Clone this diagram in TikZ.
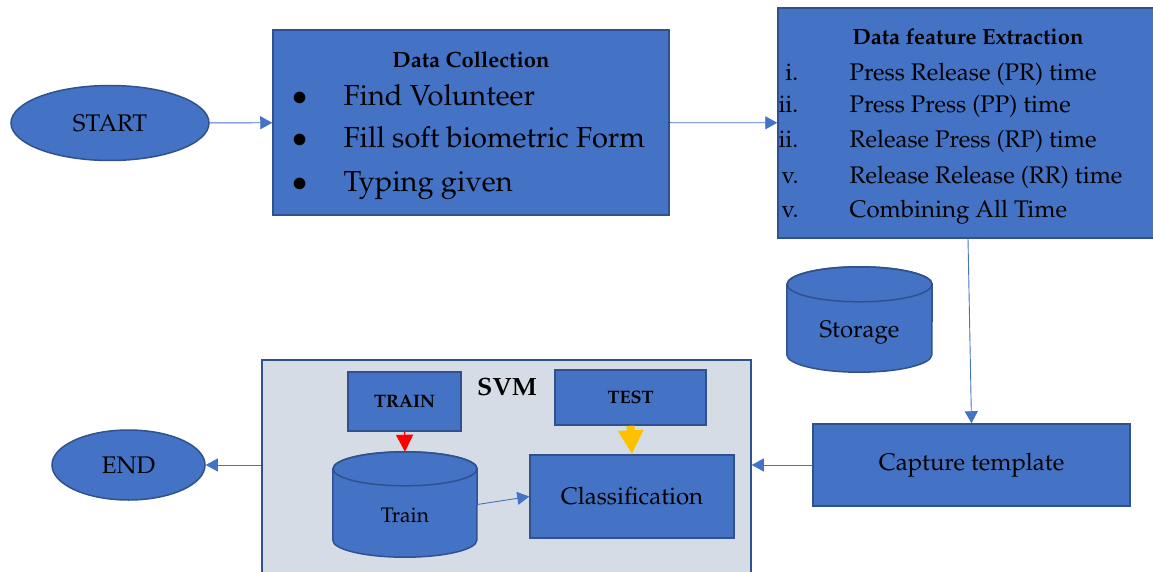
\documentclass[tikz,border=0pt]{standalone}
\usepackage[T1]{fontenc}
\usepackage{mathpazo}
\usetikzlibrary{arrows.meta,shapes.geometric}
\definecolor{boxblue}{HTML}{4472C4}
\definecolor{edgeblue}{HTML}{2F528F}
\definecolor{svmgray}{HTML}{D6DCE5}
\definecolor{testyellow}{HTML}{FFC000}
% drum (cylinder) around a named rectangle node: name, x radius, y radius
\newcommand{\drum}[3]{%
	\draw[draw=edgeblue,fill=boxblue,line width=1.5pt]
		([yshift=-#3]#1.north west) -- ([yshift=#3]#1.south west)
		arc[start angle=180,end angle=360,x radius=#2,y radius=#3]
		-- ([yshift=-#3]#1.north east)
		arc[start angle=0,end angle=180,x radius=#2,y radius=#3] -- cycle;
	\draw[draw=edgeblue,line width=1.5pt] ([yshift=-#3]#1.north) ellipse[x radius=#2,y radius=#3];}

\begin{document}
\begin{tikzpicture}[x=1pt,y=-1pt,
	blk/.style={draw=edgeblue,fill=boxblue,line width=1.5pt,rectangle,inner sep=0pt},
	oval/.style={draw=edgeblue,fill=boxblue,line width=1.5pt,ellipse,inner sep=0pt},
	db/.style={rectangle,inner sep=0pt},
	link/.style={draw=boxblue,line width=0.9pt,-{Triangle[length=12pt,width=13pt]}},
	txt/.style={font=\fontsize{24}{28}\selectfont},
	head/.style={font=\bfseries\fontsize{22}{26}\selectfont}]
			\useasboundingbox (0,0) rectangle (1153,572);
			% top row
			\node[oval,txt,minimum width=198,minimum height=75] (start) at (110,123) {START};
			\node[blk,minimum width=396,minimum height=185] (collect) at (471,122.5) {};
			\node[head,anchor=base] (collecttitle) at (471,68) {Data Collection};
			\foreach \y/\t in {106/Find Volunteer,148/Fill soft biometric Form,192/Typing given}
				{\node[anchor=base,font=\fontsize{29}{33}\selectfont] (dot\y) at (300,\y) {$\bullet$};
				 \node[anchor=base west,font=\fontsize{29}{33}\selectfont] (item\y) at (340,\y) {\t};}
			\node[blk,minimum width=380,minimum height=230] (extract) at (968,123) {};
			\node[head,anchor=base] (extracttitle) at (968,45) {Data feature Extraction};
			\foreach \y/\n/\t in {81/i./Press Release (PR) time,113/ii./Press Press (PP) time,148/ii./Release Press (RP) time,183/v./Release Release (RR) time,217/v./Combining All Time}
				{\node[txt,anchor=base east] (num\y) at (802,\y) {\n};
				 \node[txt,anchor=base west] (feat\y) at (846,\y) {\t};}
			% right side
			\node[db,minimum width=145,minimum height=105] (storage) at (859.5,319.5) {};
			\drum{storage}{72.5pt}{17.5pt}
			\node[txt] (storagelabel) at (859.5,333) {Storage};
			\node[blk,txt,minimum width=317,minimum height=82] (capture) at (971.5,465) {Capture template};
			% svm block
			\node[draw=edgeblue,fill=svmgray,line width=1.5pt,minimum width=489,minimum height=230] (svm) at (506.5,475) {};
			\node[font=\bfseries\fontsize{25}{29}\selectfont] (svmtitle) at (507,387) {SVM};
			\node[blk,font=\bfseries\fontsize{18}{22}\selectfont,minimum width=113,minimum height=59] (trainbox) at (404.5,401.5) {TRAIN};
			\node[blk,font=\bfseries\fontsize{18}{22}\selectfont,minimum width=151,minimum height=55] (testbox) at (630.5,397.5) {TEST};
			\node[db,minimum width=144,minimum height=105] (traindb) at (405,504.5) {};
			\drum{traindb}{72pt}{17pt}
			\node[font=\fontsize{21}{25}\selectfont] (trainlabel) at (405,515) {Train};
			\node[blk,txt,minimum width=204,minimum height=83] (classify) at (632,496.5) {Classification};
			\node[oval,txt,minimum width=153,minimum height=70] (finish) at (128.5,465) {END};
			% connectors
			\draw[link] (start) -- (collect);
			\draw[link] (collect) -- (extract);
			\draw[link] (extract.south) -- (capture.north);
			\draw[link] (capture.west) -- (capture.west -| svm.east);
			\draw[link] (finish.east -| svm.west) -- (finish.east);
			\draw[link] (traindb.east) -- (classify.west);
			\draw[red,line width=1.5pt,-{Triangle[length=17pt,width=17pt]}] (trainbox.south) -- (traindb.north);
			\draw[testyellow,line width=8pt,-{Triangle[length=24pt,width=24pt]}] (testbox.south) -- (classify.north);
		\end{tikzpicture}
\end{document}
